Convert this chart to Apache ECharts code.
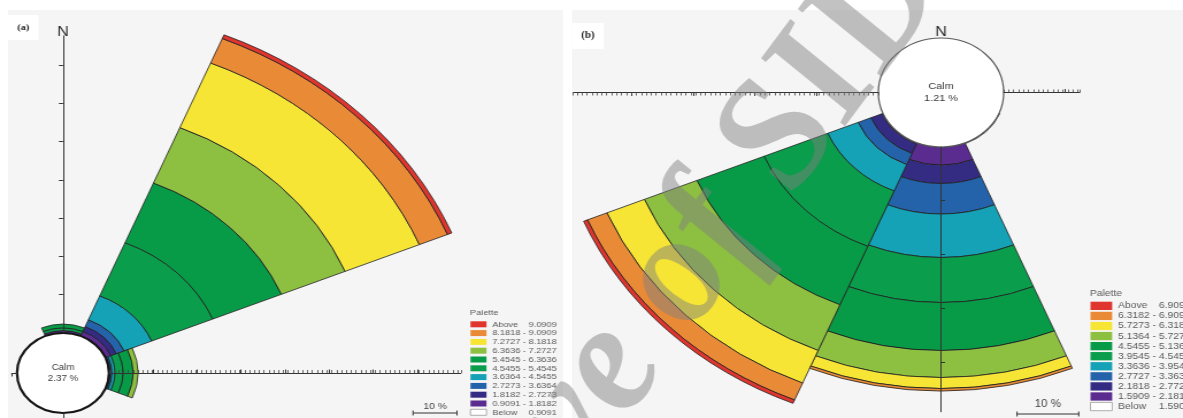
<!DOCTYPE html>
<html>
<head>
<meta charset="utf-8">
<script src="https://cdn.jsdelivr.net/npm/echarts@6/dist/echarts.min.js"></script>
<style>
  html, body { margin: 0; padding: 0; width: 1183px; height: 418px; overflow: hidden; background: #ffffff; }
  .panel { position: absolute; top: 10px; height: 408px; background: #f6f5f6; }
  #panelA { left: 8px; width: 555px; }
  #panelB { left: 572px; width: 611px; }
  #chart { position: absolute; left: 0; top: 0; width: 1029px; height: 418px;
           transform-origin: 0 0; transform: scaleX(1.14966); }
</style>
</head>
<body>
<div class="panel" id="panelA"></div>
<div class="panel" id="panelB"></div>
<div id="chart"></div>
<script>
// Wind directions, 8 sectors clockwise from north
const DIRECTIONS = ['N', 'NE', 'E', 'SE', 'S', 'SW', 'W', 'NW'];

// Wind speed class limits for each rose
const SPEED_BREAKS_A = [0.9091, 1.8182, 2.7273, 3.6364, 4.5455, 5.4545, 6.3636, 7.2727, 8.1818, 9.0909];
const SPEED_BREAKS_B = [1.5909, 2.1818, 2.7727, 3.3636, 3.9545, 4.5455, 5.1364, 5.7273, 6.3182, 6.9091];

// Frequency (%) per speed class, lowest class first: Below, 10 ranges..., Above
const FREQ_A_N  = [null, 0.60, null, null, null, 0.70, 1.00, null, null, null, null];
const FREQ_A_NE = [null, 1.31, 1.38, 1.91, 6.76, 15.01, 16.87, 15.67, 18.25, 6.92, 1.04];
const FREQ_A_E  = [null, 0.26, null, 0.39, 0.70, 1.83, 2.27, 1.12, null, null, null];
const CALM_A = 2.37;

const FREQ_B_SE = [0.15, null, null, null, null, null, null, null, null, null, null];
const FREQ_B_S  = [null, 3.35, 3.45, 5.68, 8.10, 8.38, 8.94, 5.03, 2.05, 0.47, null];
const FREQ_B_SW = [null, 0.20, 1.96, 2.23, 5.31, 11.17, 11.77, 9.22, 6.57, 3.39, 0.69];
const CALM_B = 1.21;

// Palette, lowest class first
const CLASS_COLORS = ['#ffffff', '#5b2c8f', '#342b83', '#2463a9', '#15a1b6', '#0a9d4b',
                      '#089b47', '#8dc041', '#f6e535', '#e98b36', '#e0352e'];

// ---- layout -------------------------------------------------------------
const SX = 1183 / 1029;            // horizontal stretch applied to the drawing
const ux = x => x / SX;
const FONT = '"Liberation Sans", Arial, sans-serif';

const PANEL_A = { cx: ux(63), cy: 373, r0: 40, px: 3.83, ring: '#151515', ringW: 2.2,
                  calmFont: 8.5, calmLine: 10.7 };
const PANEL_B = { cx: ux(941), cy: 92.5, r0: 54.5, px: 5.37, ring: '#5a5a5a', ringW: 1.2,
                  calmFont: 9.5, calmLine: 11.7 };

function classLabels(b) {
  const f = v => v.toFixed(4);
  const out = ['Below ' + f(b[0])];
  for (let i = 1; i < b.length; i++) out.push(f(b[i - 1]) + ' - ' + f(b[i]));
  out.push('Above ' + f(b[b.length - 1]));
  return out;
}
const LABELS_A = classLabels(SPEED_BREAKS_A);
const LABELS_B = classLabels(SPEED_BREAKS_B);

const polar = [], angleAxis = [], radiusAxis = [], series = [];

function hiddenAxisParts() {
  return { axisLine: { show: false }, axisTick: { show: false }, axisLabel: { show: false },
           splitLine: { show: false }, splitArea: { show: false } };
}

function addRose(P, freqByDir, labels, stack, calm) {
  const k = polar.length;
  polar.push({ center: [P.cx, P.cy], radius: [P.r0, P.r0 + P.px * 100] });
  angleAxis.push(Object.assign({ polarIndex: k, type: 'category', data: DIRECTIONS,
    startAngle: 90 + 180 / DIRECTIONS.length, boundaryGap: true }, hiddenAxisParts()));
  radiusAxis.push(Object.assign({ polarIndex: k, type: 'value', min: 0, max: 100 }, hiddenAxisParts()));
  labels.forEach((name, c) => {
    series.push({
      type: 'bar', coordinateSystem: 'polar', polarIndex: k, stack, name,
      barCategoryGap: '0%', silent: true,
      data: DIRECTIONS.map(d => (freqByDir[d] ? freqByDir[d][c] : null)),
      itemStyle: { color: CLASS_COLORS[c], borderColor: '#1f1f1f', borderWidth: 0.8 }
    });
  });
  series.push({
    type: 'pie', center: [P.cx, P.cy], radius: [0, P.r0], silent: true, z: 5,
    data: [{ value: 1, name: 'Calm' }],
    itemStyle: { color: '#ffffff', borderColor: P.ring, borderWidth: P.ringW },
    label: { show: true, position: 'center', formatter: 'Calm\n' + calm.toFixed(2) + ' %',
             fontSize: P.calmFont, lineHeight: P.calmLine, color: '#3a3a3a', fontFamily: FONT },
    labelLine: { show: false }, emphasis: { disabled: true }
  });
}

function addArm(P, arm) {
  const majors = [];
  for (let v = 10; v < arm.len; v += 10) majors.push(v);
  if (arm.endTick) majors.push(arm.len);
  const k = polar.length;
  polar.push({ center: [P.cx, P.cy], radius: [P.r0, P.r0 + P.px * arm.len] });
  angleAxis.push({ polarIndex: k, type: 'value', min: 0, max: 360, startAngle: arm.angle, show: false });
  radiusAxis.push({
    polarIndex: k, type: 'value', min: 0, max: arm.len, interval: 10, z: 10, silent: true,
    name: arm.name || '', nameLocation: 'end', nameGap: arm.nameGap || 0,
    nameTextStyle: { fontSize: 14, color: '#2b2b2b', fontFamily: FONT },
    axisLine: { show: !arm.noLine, lineStyle: { color: '#333333', width: 1 } },
    axisTick: { show: majors.length > 0, customValues: majors, length: 3.5,
                lineStyle: { color: '#333333', width: 1 } },
    axisLabel: { show: false }, splitLine: { show: false }, splitArea: { show: false }
  });
  if (arm.hatch) {
    const h = polar.length;
    polar.push({ center: [P.cx, P.cy], radius: [P.r0, P.r0 + P.px * arm.len] });
    angleAxis.push({ polarIndex: h, type: 'value', min: 0, max: 360, startAngle: arm.angle, show: false });
    radiusAxis.push({
      polarIndex: h, type: 'value', min: 0, max: arm.len, interval: arm.hatch, z: 10, silent: true,
      axisLine: { show: false },
      axisTick: { show: true, length: 3, inside: !!arm.flip, lineStyle: { color: '#444444', width: 0.8 } },
      axisLabel: { show: false }, splitLine: { show: false }, splitArea: { show: false }
    });
  }
}

// Rose (a)
addRose(PANEL_A, { N: FREQ_A_N, NE: FREQ_A_NE, E: FREQ_A_E }, LABELS_A, 'roseA', CALM_A);
addArm(PANEL_A, { angle: 90, len: 77.6, name: 'N', nameGap: -3 });
addArm(PANEL_A, { angle: 0, len: 79.9, hatch: 1.1 });
addArm(PANEL_A, { angle: -90, len: 8 });
addArm(PANEL_A, { angle: 180, len: 1.2, endTick: true });

// Rose (b)
addRose(PANEL_B, { SE: FREQ_B_SE, S: FREQ_B_S, SW: FREQ_B_SW }, LABELS_B, 'roseB', CALM_B);
addArm(PANEL_B, { angle: 180, len: 49.4, hatch: 0.8, flip: true });
addArm(PANEL_B, { angle: 0, len: 12.3, hatch: 0.8 });
addArm(PANEL_B, { angle: -90, len: 49.3 });
addArm(PANEL_B, { angle: 90, len: 0.05, name: 'N', noLine: true, nameGap: -1 });

// ---- legends -------------------------------------------------------------
function legendFor(labels, o) {
  const rich = {
    l: { width: o.col, fontSize: o.fs, lineHeight: o.lh, color: '#5a5a5a', fontFamily: FONT },
    r: { fontSize: o.fs, lineHeight: o.lh, color: '#5a5a5a', fontFamily: FONT }
  };
  return {
    orient: 'vertical', left: o.left, top: o.top, padding: 0,
    itemWidth: o.w, itemHeight: o.h, itemGap: o.gap, icon: 'rect', selectedMode: false,
    itemStyle: { borderWidth: 0 },
    data: labels.slice().reverse().map(name => (
      name.startsWith('Below')
        ? { name, itemStyle: { borderColor: '#9a9a9a', borderWidth: 0.8 } }
        : { name })),
    textStyle: { fontSize: o.fs, lineHeight: o.lh, color: '#5a5a5a', fontFamily: FONT, rich },
    formatter: name => {
      const m = name.match(/^(\S+)\s+-\s+(\S+)$/);
      if (m) return '{l|' + m[1] + ' - }{r|' + m[2] + '}';
      const p = name.split(' ');
      return '{l|' + p[0] + '}{r|' + p[1] + '}';
    }
  };
}

// ---- scale bars and overlay text -----------------------------------------
function scaleBar(x0, y, px, fs, ty) {
  const len = 10 * px;
  const st = { stroke: '#333333', lineWidth: 1 };
  return { type: 'group', silent: true, children: [
    { type: 'line', shape: { x1: x0, y1: y, x2: x0 + len, y2: y }, style: st },
    { type: 'line', shape: { x1: x0, y1: y - 2.5, x2: x0, y2: y + 2.5 }, style: st },
    { type: 'line', shape: { x1: x0 + len, y1: y - 2.5, x2: x0 + len, y2: y + 2.5 }, style: st },
    { type: 'text', x: x0 + len / 2, y: ty,
      style: { text: '10 %', fill: '#444444', font: fs + 'px ' + FONT,
               align: 'center', verticalAlign: 'middle', textAlign: 'center', textVerticalAlign: 'middle' } }
  ] };
}

const WM_ANGLE = 57 * Math.PI / 180;

const option = {
  backgroundColor: 'transparent',
  animation: false,
  title: [
    { text: '(a)', left: ux(8), top: 15, padding: [8, 8], backgroundColor: '#ffffff',
      textStyle: { fontFamily: '"Liberation Serif", serif', fontWeight: 'bold', fontSize: 9, color: '#222222' } },
    { text: '(b)', left: ux(572), top: 23, padding: [8, 8], backgroundColor: '#ffffff',
      textStyle: { fontFamily: '"Liberation Serif", serif', fontWeight: 'bold', fontSize: 9.5, color: '#222222' } },
    { text: 'Palette', left: ux(470), top: 309, padding: 0,
      textStyle: { fontFamily: FONT, fontWeight: 'normal', fontSize: 8, color: '#5a5a5a' } },
    { text: 'Palette', left: ux(1090), top: 289, padding: 0,
      textStyle: { fontFamily: FONT, fontWeight: 'normal', fontSize: 9, color: '#5a5a5a' } }
  ],
  legend: [
    legendFor(LABELS_A, { left: ux(470), top: 320.3, w: ux(16), h: 6, gap: 0.8, fs: 8, lh: 8, col: 31.6 }),
    legendFor(LABELS_B, { left: ux(1090), top: 301.1, w: ux(21.7), h: 8.3, gap: 0.57, fs: 9, lh: 9.5, col: 35.5 })
  ],
  polar, angleAxis, radiusAxis, series,
  graphic: [
    scaleBar(ux(413), 413, PANEL_A.px, 9, 407),
    scaleBar(ux(1017), 414, PANEL_B.px, 10, 404),
    { type: 'text', x: 857, y: 5, rotation: WM_ANGLE, z: 100, silent: true,
      style: { text: 'Archive of SID', fill: 'rgba(128,128,128,0.48)',
               font: 'italic bold 150px "Liberation Serif", serif',
               align: 'right', verticalAlign: 'bottom', textAlign: 'right', textVerticalAlign: 'bottom' } }
  ]
};

const chart = echarts.init(document.getElementById('chart'), null, { renderer: 'canvas' });
chart.setOption(option);
</script>
</body>
</html>
